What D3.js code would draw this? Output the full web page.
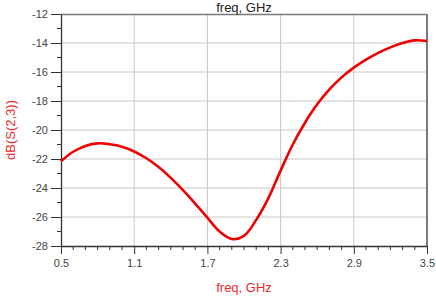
<!DOCTYPE html>
<html>
<head>
<meta charset="utf-8">
<script src="https://cdn.jsdelivr.net/npm/d3@7"></script>
<style>
    body { margin: 0; background: #fff; }
    svg { display: block; font-family: "Liberation Sans", Arial, sans-serif; }
</style>
</head>
<body>
<div id="chart"></div>
<script>

// frequency (GHz) and dB(S(2,3))
const freq = [0.5, 0.6, 0.7, 0.8, 0.9, 1.0, 1.1, 1.2, 1.3, 1.4, 1.5, 1.6, 1.7, 1.8, 1.9,
              2.0, 2.1, 2.2, 2.3, 2.4, 2.5, 2.6, 2.7, 2.8, 2.9, 3.0, 3.1, 3.2, 3.3, 3.4, 3.5];
const s23 = [-22.15, -21.5, -21.1, -20.92, -20.98, -21.15, -21.48, -21.95, -22.55, -23.3, -24.15,
             -25.08, -26.05, -27.0, -27.52, -27.3, -26.2, -24.7, -22.8, -21.0, -19.5, -18.23,
             -17.2, -16.37, -15.7, -15.15, -14.68, -14.3, -14.0, -13.82, -13.86];

const xTicks = [0.5, 1.1, 1.7, 2.3, 2.9, 3.5];
const yTicks = [-12, -14, -16, -18, -20, -22, -24, -26, -28];
const xLabel = "freq, GHz";
const yLabel = "dB(S(2,3))";

const W = 436, H = 297;
const margin = {top: 14, right: 9, bottom: 51, left: 61};
const width = W - margin.left - margin.right;
const height = H - margin.top - margin.bottom;

const svg = d3.select("#chart").append("svg")
    .attr("width", W)
    .attr("height", H);

const g = svg.append("g")
    .attr("transform", `translate(${margin.left},${margin.top})`);

// scales
const x = d3.scaleLinear().domain([0.5, 3.5]).range([0, width]);
const y = d3.scaleLinear().domain([-28, -12]).range([height, 0]);

// grid
g.append("g")
    .selectAll("line")
    .data(xTicks.slice(1, -1))
    .enter().append("line")
    .attr("x1", d => x(d)).attr("x2", d => x(d))
    .attr("y1", 0).attr("y2", height)
    .attr("stroke", "#c8c8c8");

g.append("g")
    .selectAll("line")
    .data(yTicks.slice(1, -1))
    .enter().append("line")
    .attr("x1", 0).attr("x2", width)
    .attr("y1", d => y(d)).attr("y2", d => y(d))
    .attr("stroke", "#c8c8c8");

// frame, top and right
g.append("line")
    .attr("x1", 0).attr("x2", width).attr("y1", 0.5).attr("y2", 0.5)
    .attr("stroke", "#7a7a7a").attr("stroke-width", 1.5);
g.append("line")
    .attr("x1", width).attr("x2", width).attr("y1", 0).attr("y2", height)
    .attr("stroke", "#7a7a7a").attr("stroke-width", 2);

// minor ticks
const xMinor = d3.range(0.5, 3.51, 0.1).filter(v => !xTicks.some(t => Math.abs(t - v) < 1e-6));
const yMinor = d3.range(-27, -12, 2);

g.append("g")
    .selectAll("line")
    .data(xMinor)
    .enter().append("line")
    .attr("x1", d => x(d)).attr("x2", d => x(d))
    .attr("y1", height).attr("y2", height + 4)
    .attr("stroke", "#333");

g.append("g")
    .selectAll("line")
    .data(yMinor)
    .enter().append("line")
    .attr("x1", -4).attr("x2", 0)
    .attr("y1", d => y(d)).attr("y2", d => y(d))
    .attr("stroke", "#333");

// axes
const xAxis = d3.axisBottom(x)
    .tickValues(xTicks)
    .tickFormat(d3.format(".1f"))
    .tickSize(8)
    .tickSizeOuter(0)
    .tickPadding(5);

const yAxis = d3.axisLeft(y)
    .tickValues(yTicks)
    .tickFormat(d => "-" + Math.abs(d))
    .tickSize(10)
    .tickSizeOuter(0)
    .tickPadding(3);

const gx = g.append("g")
    .attr("transform", `translate(0,${height})`)
    .call(xAxis);

const gy = g.append("g")
    .call(yAxis);

[gx, gy].forEach(a => {
    a.selectAll(".domain").attr("stroke", "#333").attr("stroke-width", 1.3);
    a.selectAll(".tick line").attr("stroke", "#333");
    a.selectAll("text")
        .style("font-family", "'Liberation Sans', Arial, sans-serif")
        .style("font-size", "11px")
        .attr("fill", "#444");
});

// curve
const line = d3.line()
    .curve(d3.curveCatmullRom.alpha(0.5))
    .x((d, i) => x(freq[i]))
    .y(d => y(d));

g.append("path")
    .datum(s23)
    .attr("d", line)
    .attr("fill", "none")
    .attr("stroke", "#f00000")
    .attr("stroke-width", 2.6)
    .attr("stroke-linejoin", "round");

// titles
svg.append("text")
    .attr("x", margin.left + width / 2)
    .attr("y", 11.5)
    .attr("text-anchor", "middle")
    .style("font-size", "13px")
    .attr("fill", "#222")
    .text(xLabel);

svg.append("text")
    .attr("x", margin.left + width / 2)
    .attr("y", 292)
    .attr("text-anchor", "middle")
    .style("font-size", "13px")
    .attr("fill", "#ee2a2a")
    .text(xLabel);

svg.append("text")
    .attr("transform", `translate(15,${margin.top + height / 2}) rotate(-90)`)
    .attr("text-anchor", "middle")
    .style("font-size", "13px")
    .attr("fill", "#ee2a2a")
    .text(yLabel);

</script>
</body>
</html>
